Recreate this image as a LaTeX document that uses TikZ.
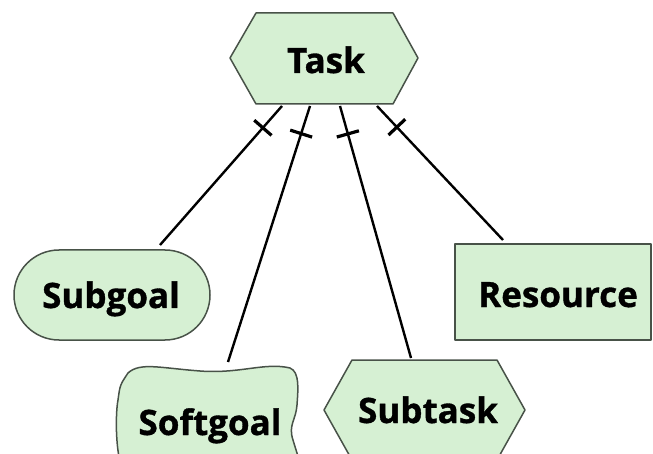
\documentclass[tikz,border=0pt]{standalone}
\usepackage{fontspec}
\newfontfamily\lblfont{Open Sans Bold}[FakeBold=1]
\usetikzlibrary{decorations.markings}
\definecolor{shapefill}{RGB}{214,240,211}
\definecolor{shapeline}{RGB}{72,82,72}
\tikzset{
  shapebox/.style={draw=shapeline, fill=shapefill, line width=1.5pt, line join=round},
  lbl/.style={anchor=base, inner sep=0pt, font=\lblfont\fontsize{35}{40}\selectfont},
  link/.style={line width=2.4pt, black,
    decoration={markings, mark=at position 29pt with {\draw[line width=3.2pt] (0,-11.5pt) -- (0,11.5pt);}},
    postaction=decorate}
}
\begin{document}
\begin{tikzpicture}[x=1pt,y=-1pt]
\useasboundingbox (0,0) rectangle (653,454);
\clip (0,0) rectangle (653,454);
% shapes
\draw[shapebox] (256,13) -- (393,13) -- (418,58) -- (393,104) -- (256,104) -- (230,58) -- cycle;
\draw[shapebox, rounded corners=45pt] (14,250) rectangle (210,340);
\draw[shapebox] (455,244) rectangle (651,340);
\draw[shapebox] (352,360) -- (497,360) -- (525,410) -- (497,460) -- (352,460) -- (324,410) -- cycle;
\draw[shapebox] (128,373) .. controls (140,362) and (160,368) .. (200,371)
  .. controls (240,374) and (265,362) .. (290,368)
  .. controls (300,372) and (298,390) .. (297,405)
  .. controls (296,420) and (288,425) .. (293,440)
  .. controls (296,450) .. (300,462) -- (120,462)
  .. controls (115,440) and (116,410) .. (118,400)
  .. controls (120,385) .. (128,373) -- cycle;
% labels
\node[lbl] (task) at (326,73) {Task};
\node[lbl] (subgoal) at (111,308) {Subgoal};
\node[lbl] (softgoal) at (210,435) {Softgoal};
\node[lbl] (subtask) at (428,423) {Subtask};
\node[lbl] (resource) at (558,307) {Resource};
% connector end points
\coordinate (t1) at (282,106);
\coordinate (t2) at (310,106);
\coordinate (t3) at (340,106);
\coordinate (t4) at (377,106);
\coordinate (sg) at (160,245);
\coordinate (sf) at (228,362);
\coordinate (st) at (411,358);
\coordinate (rs) at (503,240);
\draw[link] (t1) -- (sg);
\draw[link] (t2) -- (sf);
\draw[link] (t3) -- (st);
\draw[link] (t4) -- (rs);
\end{tikzpicture}
\end{document}
